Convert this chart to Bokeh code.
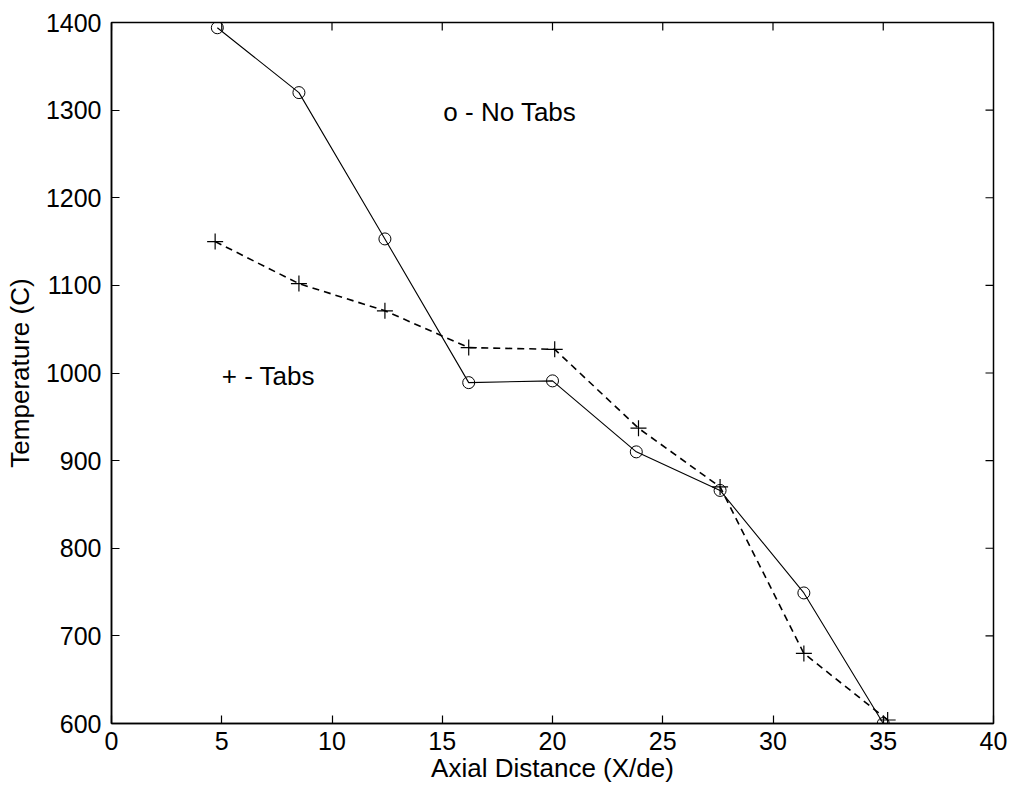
import math
from bokeh.plotting import figure
from bokeh.models import Range1d, FixedTicker, Label
from bokeh.embed import file_html
from bokeh.resources import INLINE

# Data
x_no_tabs = [4.8, 8.5, 12.4, 16.2, 20.0, 23.8, 27.6, 31.4, 35.0]
t_no_tabs = [1394, 1320, 1153, 989, 991, 910, 866, 749, 600]
x_tabs = [4.7, 8.5, 12.4, 16.2, 20.1, 23.9, 27.6, 31.4, 35.2]
t_tabs = [1150, 1102, 1071, 1029, 1027, 937, 870, 680, 604]
x_ticks = [0, 5, 10, 15, 20, 25, 30, 35, 40]
y_ticks = [600, 700, 800, 900, 1000, 1100, 1200, 1300, 1400]
x_min, x_max = 0, 40
y_min, y_max = 600, 1400

FONT = "Liberation Sans"

p = figure(width=1011, height=787, output_backend="svg", toolbar_location=None,
           x_range=Range1d(x_min, x_max), y_range=Range1d(y_min, y_max),
           min_border_left=111, min_border_right=18, min_border_top=22, min_border_bottom=64,
           background_fill_color="white", border_fill_color="white")
p.grid.visible = False
p.outline_line_color = "black"
p.outline_line_width = 1.5

for ax in (p.xaxis[0], p.yaxis[0]):
    ax.major_tick_in = 8
    ax.major_tick_out = 0
    ax.minor_tick_line_color = None
    ax.axis_line_color = "black"
    ax.axis_line_width = 1.5
    ax.major_tick_line_width = 1.2
    ax.major_label_text_font = FONT
    ax.major_label_text_font_size = "25px"
    ax.major_label_text_color = "black"
    ax.axis_label_text_font = FONT
    ax.axis_label_text_font_style = "normal"
    ax.axis_label_text_color = "black"
p.xaxis[0].ticker = FixedTicker(ticks=x_ticks)
p.yaxis[0].ticker = FixedTicker(ticks=y_ticks)
p.xaxis[0].axis_label = "Axial Distance (X/de)"
p.yaxis[0].axis_label = "Temperature (C)"
p.xaxis[0].axis_label_text_font_size = "26px"
p.yaxis[0].axis_label_text_font_size = "26px"
p.xaxis[0].major_label_standoff = 8
p.xaxis[0].axis_label_standoff = 0
p.yaxis[0].major_label_standoff = 10
p.yaxis[0].axis_label_standoff = 8

# inward ticks on the top and right edges (half of each dash is clipped by the frame)
p.scatter(x_ticks, [y_max] * len(x_ticks), marker="dash", angle=math.pi / 2, size=16,
          line_color="black", line_width=1.2)
p.scatter([x_max] * len(y_ticks), y_ticks, marker="dash", size=16,
          line_color="black", line_width=1.2)

p.line(x_no_tabs, t_no_tabs, line_color="black", line_width=1.1)
p.scatter(x_no_tabs, t_no_tabs, marker="circle", size=12, fill_color=None,
          line_color="black", line_width=1)
p.line(x_tabs, t_tabs, line_color="black", line_width=1.6, line_dash="7 5")
p.scatter(x_tabs, t_tabs, marker="cross", size=16, line_color="black", line_width=1.2)

p.add_layout(Label(x=15.05, y=1298, text="o - No Tabs", text_font=FONT,
                   text_font_size="26px", text_color="black", text_baseline="middle"))
p.add_layout(Label(x=5.0, y=997, text="+ - Tabs", text_font=FONT,
                   text_font_size="26px", text_color="black", text_baseline="middle"))

open("out.html", "w").write(file_html(p, INLINE))
